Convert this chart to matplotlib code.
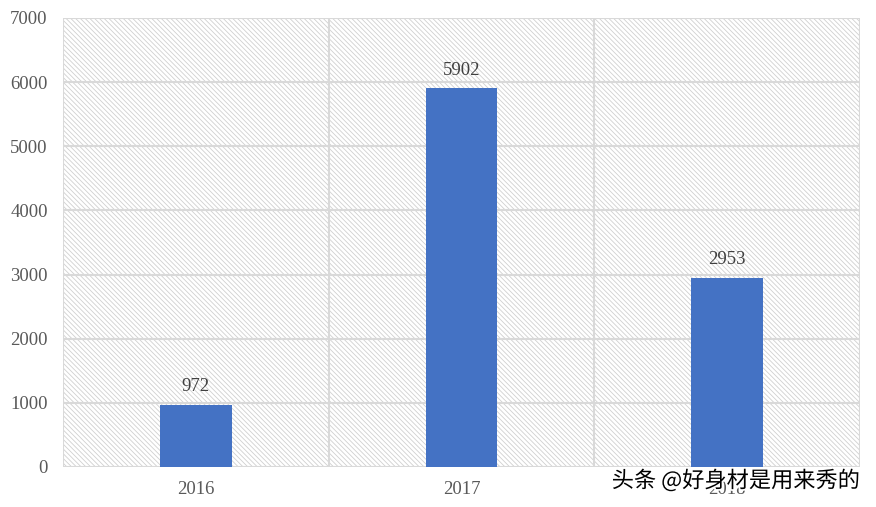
import matplotlib.pyplot as plt
import matplotlib.patheffects as pe

# data
years = ["2016", "2017", "2018"]
values = [972, 5902, 2953]
yticks = [0, 1000, 2000, 3000, 4000, 5000, 6000, 7000]

plt.rcParams["hatch.linewidth"] = 0.6
plt.rcParams["hatch.color"] = "#c8c8c8"

fig = plt.figure(figsize=(8.76, 5.07), dpi=100)
ax = fig.add_axes([0.0719, 0.0789, 0.9098, 0.8856])

# hatched background
ax.patch.set_facecolor("white")
ax.patch.set_hatch("\\\\\\\\\\\\\\")
ax.patch.set_edgecolor("#d0d0d0")
ax.patch.set_linewidth(0)

x = list(range(len(years)))
ax.bar(x, values, width=0.27, color="#4472C4", zorder=3)

for xi, v in zip(x, values):
    ax.text(xi, v + 150, str(v), ha="center", va="bottom",
            fontsize=13.5, color="#404040", family="Liberation Serif", zorder=4)

ax.set_xlim(-0.5, len(years) - 0.5)
ax.set_ylim(0, 7000)
ax.set_yticks(yticks)
ax.set_yticklabels([str(t) for t in yticks])
ax.set_xticks(x)
ax.set_xticklabels(years)

for t in yticks:
    ax.axhline(t, color="#d9d9d9", lw=1.5, zorder=2)
for b in [-0.5, 0.5, 1.5, 2.5]:
    ax.axvline(b, color="#d9d9d9", lw=1.5, zorder=2)

for s in ax.spines.values():
    s.set_visible(False)
ax.tick_params(length=0, labelsize=13.5, colors="#595959")
ax.tick_params(axis="y", pad=11)
ax.tick_params(axis="x", pad=10)
for lab in ax.get_xticklabels() + ax.get_yticklabels():
    lab.set_family("Liberation Serif")

# watermark
fig.text(0.982, 0.052, "头条 @好身材是用来秀的", ha="right", va="center",
         fontsize=16, color="black", family=["Noto Sans CJK SC", "DejaVu Sans"],
         path_effects=[pe.withStroke(linewidth=2.5, foreground="white")], zorder=10)

fig.savefig("out.png", dpi=100)
